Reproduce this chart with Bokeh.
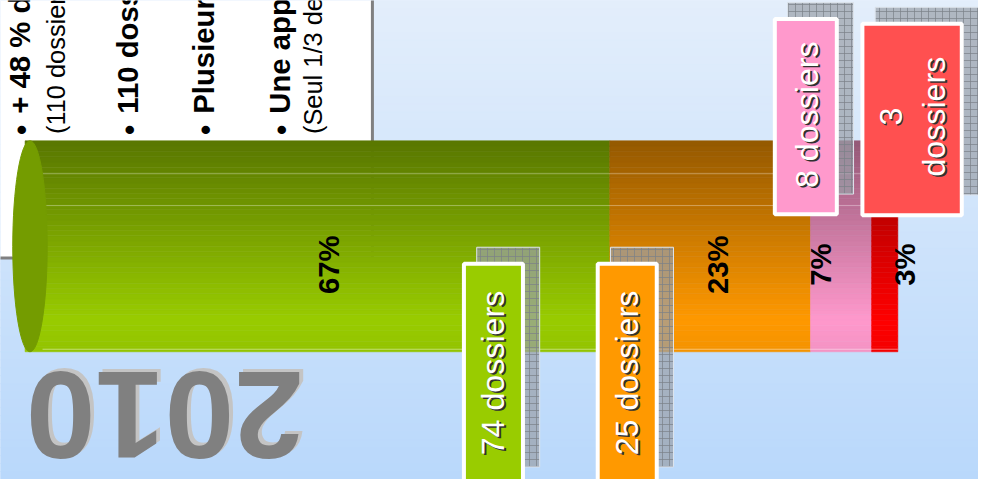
import numpy as np
from math import pi
from bokeh.plotting import figure
from bokeh.models import Range1d, ColumnDataSource
from bokeh.core.properties import value
from bokeh.embed import file_html
from bokeh.resources import INLINE

# ---------------- data ----------------
year_label = "2010"
percentages = [67, 23, 7, 3]
dossiers = [74, 25, 8, 3]
segment_colors = ["#99cc00", "#ff9900", "#ff99cc", "#ff0000"]
callout_colors = ["#99cc00", "#ff9900", "#ff99cc", "#ff5050"]
callout_separators = [" ", " ", " ", "\n"]
bullet_lines = [
    ("•", "+ 48 % de dossiers par rapport à 2009", "bold"),
    ("", "(110 dossiers en 2010 contre 74 en 2009)", "normal"),
    ("•", "110 dossiers traités en 2010", "bold"),
    ("•", "Plusieurs dossiers complexes", "bold"),
    ("•", "Une approche plus globale", "bold"),
    ("", "(Seul 1/3 des dossiers concerne un seul service)", "normal"),
]

# ---------------- layout (reference pixel grid 994 x 495, scaled to figure) ----------------
W, H = 978, 479
REF_W, REF_H = 994, 495
FS = (W / REF_W + H / REF_H) / 2  # font scale
BAR_LEFT = 25
PX_PER_PCT = 8.87
BAR_TOP, BAR_BOTTOM = 145, 363
PY = BAR_BOTTOM - BAR_TOP
x_start = -BAR_LEFT / PX_PER_PCT
x_end = x_start + REF_W / PX_PER_PCT
y_end = 0.5 + BAR_TOP / PY
y_start = y_end - REF_H / PY


def X(sx):
    return x_start + sx / PX_PER_PCT


def Y(sy):
    return y_end - sy / PY


def fs(px):
    return f"{px * FS:.1f}px"


FONT = value("Liberation Sans")

p = figure(width=W, height=H, x_range=Range1d(x_start, x_end), y_range=Range1d(y_start, y_end),
           output_backend="svg", toolbar_location=None, x_axis_type=None, y_axis_type=None,
           min_border=0, min_border_left=0, min_border_right=0, min_border_top=0, min_border_bottom=0)
p.grid.visible = False
p.outline_line_color = None
p.background_fill_color = "#d0e4fa"
p.border_fill_color = "#d0e4fa"


def hex2rgb(h):
    h = h.lstrip("#")
    return tuple(int(h[i:i + 2], 16) for i in (0, 2, 4))


def rgb2hex(c):
    return "#%02x%02x%02x" % tuple(max(0, min(255, int(round(v)))) for v in c)


# background gradient
NB = 60
top_c, bot_c = np.array(hex2rgb("#e3eefb")), np.array(hex2rgb("#b9d8fb"))
bg = dict(top=[], bottom=[], color=[])
for k in range(NB):
    bg["top"].append(Y(k * REF_H / NB))
    bg["bottom"].append(Y((k + 1) * REF_H / NB))
    bg["color"].append(rgb2hex(top_c + (bot_c - top_c) * (k + 0.5) / NB))
p.quad(left=x_start, right=x_end, top="top", bottom="bottom", fill_color="color",
       line_color="color", line_width=1, source=ColumnDataSource(bg))

# white text box
p.quad(left=X(-20), right=X(378), top=Y(-20), bottom=Y(266), fill_color="white",
       line_color="#808080", line_width=3)

# bullet text (rotated, reading upward)
centers = [19, 56.5, 129, 206, 283.5, 317.5]
for (bul, txt, style), cxl in zip(bullet_lines, centers):
    size = fs(30) if style == "bold" else fs(26)
    if bul:
        p.text(x=[X(cxl + 2)], y=[Y(139)], text=[bul], angle=pi / 2, text_font=FONT,
               text_font_size=size, text_font_style="bold", text_color="black",
               text_align="left", text_baseline="middle")
        start = 117
    else:
        start = 138
    p.text(x=[X(cxl)], y=[Y(start)], text=[txt], angle=pi / 2, text_font=FONT,
           text_font_size=size, text_font_style=style, text_color="black",
           text_align="left", text_baseline="middle")

# "2010" upside down with shadow
p.text(x=[X(312)], y=[Y(425.5)], text=[year_label], angle=pi, text_font=FONT,
       text_font_size=fs(128), text_font_style="bold", text_color="#c4c4c4",
       text_align="left", text_baseline="middle")
p.text(x=[X(308)], y=[Y(428.5)], text=[year_label], angle=pi, text_font=FONT,
       text_font_size=fs(128), text_font_style="bold", text_color="#808080",
       text_align="left", text_baseline="middle")

# ---------------- cylinder bar ----------------
cum_end = np.cumsum(percentages).astype(float)
cum_start = cum_end - np.array(percentages)


def shade(t):
    if t < 0.85:
        return 0.58 + 0.42 * (t / 0.85)
    return 1.0 - 0.3 * (t - 0.85)


N = 40
strips = dict(left=[], right=[], y=[], color=[])
for l, r, c in zip(cum_start, cum_end, segment_colors):
    rgb = np.array(hex2rgb(c), dtype=float)
    for k in range(N):
        yc = -0.5 + (k + 0.5) / N
        t = 0.5 - yc
        strips["left"].append(l)
        strips["right"].append(r)
        strips["y"].append(yc)
        strips["color"].append(rgb2hex(rgb * shade(t)))
p.hbar(y="y", left="left", right="right", height=1.0 / N, fill_color="color",
       line_color="color", line_width=0.6, source=ColumnDataSource(strips))

# highlight lines
total = float(cum_end[-1])
for yy, a in [(0.344, 0.35), (0.193, 0.35), (-0.488, 0.45)]:
    p.segment(x0=[2.0], x1=[total], y0=[yy], y1=[yy], line_color="white", line_alpha=a, line_width=1)

# left cap
p.ellipse(x=[0.56], y=[0.0], width=[3.95], height=[1.0], fill_color="#749c00",
          line_color="#749c00")

# percent labels
pct_shift_px = [11.5, 7, -21, 20]
pct_x = [(s + e) / 2 + d / PX_PER_PCT for s, e, d in zip(cum_start, cum_end, pct_shift_px)]
pct_y = [0.0 - 19.0 / PY] * len(percentages)
p.text(x=pct_x, y=pct_y, text=[f"{v}%" for v in percentages], angle=pi / 2, text_font=FONT,
       text_font_size=fs(30), text_font_style="bold", text_color="black",
       text_align="center", text_baseline="middle")

# ---------------- callouts ----------------
callout_boxes = [(469, 533, 270, 505), (605, 669, 270, 505), (785, 852, 17, 223), (874, 979, 22, 224)]
callout_centers = [(501, 385), (637, 385), (820, 118), (927, 120)]
SH = (15, -15)
sh = dict(left=[], right=[], top=[], bottom=[])
bx = dict(left=[], right=[], top=[], bottom=[], color=[])
for (l, r, t, b), col in zip(callout_boxes, callout_colors):
    sh["left"].append(X(l + SH[0]))
    sh["right"].append(X(r + SH[0]))
    sh["top"].append(Y(t + SH[1]))
    sh["bottom"].append(Y(b + SH[1] - 8))
    bx["left"].append(X(l + 2))
    bx["right"].append(X(r - 2))
    bx["top"].append(Y(t + 2))
    bx["bottom"].append(Y(b - 2))
    bx["color"].append(col)
p.quad(left="left", right="right", top="top", bottom="bottom", source=ColumnDataSource(sh),
       fill_color="#9aa0a8", fill_alpha=0.7, hatch_pattern="+", hatch_color="#7b8088",
       hatch_scale=7, hatch_weight=1, hatch_alpha=0.7, line_color="#dde4ec", line_width=1)
p.quad(left="left", right="right", top="top", bottom="bottom", source=ColumnDataSource(bx),
       fill_color="color", line_color="white", line_width=4)

labels = [f"{d}{s}dossiers" for d, s in zip(dossiers, callout_separators)]
cx = [X(c[0]) for c in callout_centers]
cy = [Y(c[1]) for c in callout_centers]
p.text(x=[X(c[0] + 1.5) for c in callout_centers], y=[Y(c[1] + 1.5) for c in callout_centers],
       text=labels, angle=pi / 2, text_font=FONT, text_font_size=fs(33), text_color="#303030",
       text_align="center", text_baseline="middle")
p.text(x=cx, y=cy, text=labels, angle=pi / 2, text_font=FONT, text_font_size=fs(33),
       text_color="white", text_align="center", text_baseline="middle")

open("out.html", "w").write(file_html(p, INLINE))
